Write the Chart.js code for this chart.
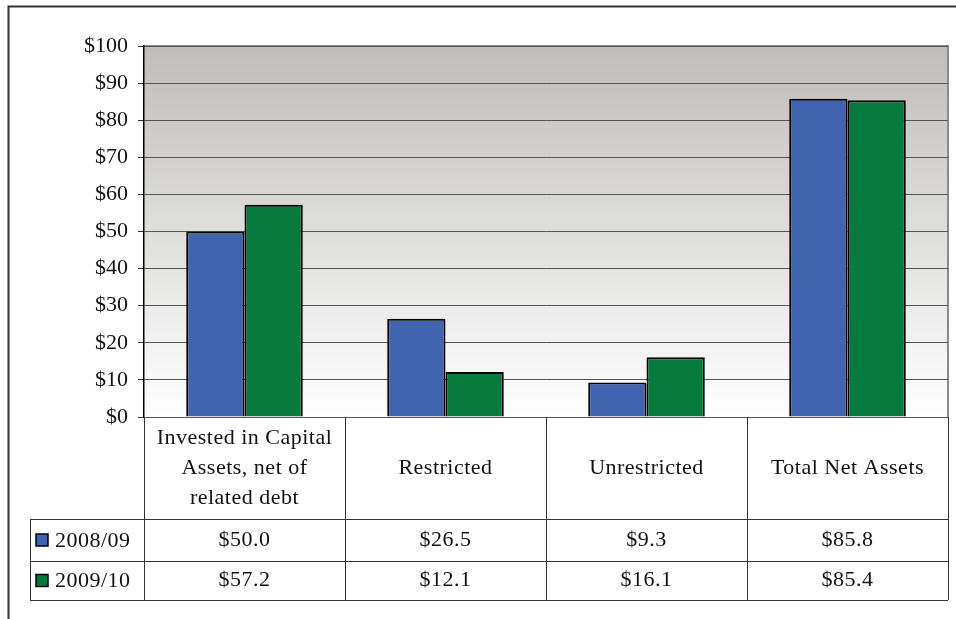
<!DOCTYPE html>
<html>
<head>
<meta charset="utf-8">
<script src="https://cdn.jsdelivr.net/npm/chart.js@4"></script>
<style>
  html, body { margin: 0; padding: 0; background: #fff; }
  #wrap { position: relative; width: 956px; height: 619px; }
</style>
</head>
<body>
<div id="wrap"><canvas id="chart" width="956" height="619"></canvas></div>
<script>
const categories = [
  ['Invested in Capital', 'Assets, net of', 'related debt'],
  ['Restricted'],
  ['Unrestricted'],
  ['Total Net Assets']
];
const seriesNames = ['2008/09', '2009/10'];
const values0809 = [50.0, 26.5, 9.3, 85.8];
const values0910 = [57.2, 12.1, 16.1, 85.4];
const colors = ['#4064b0', '#067a3c'];

const FONT = '"Liberation Serif", "Times New Roman", serif';

// grey-to-white fill behind the bars, plus the outer frame
const backdrop = {
  id: 'backdrop',
  beforeDraw(chart) {
    const { ctx, chartArea: a } = chart;
    ctx.save();
    const g = ctx.createLinearGradient(0, a.top, 0, a.bottom);
    g.addColorStop(0, '#bebdbb');
    g.addColorStop(1, '#ffffff');
    ctx.fillStyle = g;
    ctx.fillRect(a.left, a.top, a.right - a.left, a.bottom - a.top);
    ctx.strokeStyle = '#333';
    ctx.lineWidth = 2;
    ctx.beginPath();
    ctx.moveTo(8.5, 640);
    ctx.lineTo(8.5, 6.5);
    ctx.lineTo(960, 6.5);
    ctx.stroke();
    ctx.strokeStyle = '#8a8a8a';
    ctx.lineWidth = 2;
    ctx.beginPath();
    ctx.moveTo(a.left, a.top);
    ctx.lineTo(a.right, a.top);
    ctx.lineTo(a.right, a.bottom);
    ctx.stroke();
    ctx.restore();
  }
};

// data table under the plot, columns follow the category scale
const dataTable = {
  id: 'dataTable',
  afterDraw(chart) {
    const { ctx, chartArea: a } = chart;
    const xs = chart.scales.x;
    const n = categories.length;
    const colW = (a.right - a.left) / n;
    const headBottom = 519, row1 = 561, row2 = 600, legLeft = 30;
    ctx.save();
    ctx.strokeStyle = '#333';
    ctx.lineWidth = 1;
    const line = (x1, y1, x2, y2) => {
      ctx.beginPath(); ctx.moveTo(x1, y1); ctx.lineTo(x2, y2); ctx.stroke();
    };
    for (let i = 0; i <= n; i++) {
      const x = Math.round(a.left + i * colW) + 0.5;
      line(x, a.bottom, x, row2);
    }
    line(legLeft + 0.5, headBottom, legLeft + 0.5, row2);
    [headBottom, row1, row2].forEach(y => line(legLeft, y + 0.5, a.right, y + 0.5));

    ctx.fillStyle = '#111';
    ctx.font = '22px ' + FONT;
    ctx.letterSpacing = '0.5px';
    ctx.textAlign = 'center';
    ctx.textBaseline = 'middle';
    categories.forEach((lines, i) => {
      const cx = xs.getPixelForValue(i);
      const mid = (a.bottom + headBottom) / 2;
      lines.forEach((t, k) => {
        ctx.fillText(t, cx, mid + (k - (lines.length - 1) / 2) * 30);
      });
    });
    const rows = [values0809, values0910];
    const rowMid = [(headBottom + row1) / 2, (row1 + row2) / 2];
    rows.forEach((vals, r) => {
      vals.forEach((v, i) => {
        ctx.textAlign = 'center';
        ctx.fillText('$' + v.toFixed(1), xs.getPixelForValue(i), rowMid[r]);
      });
      ctx.fillStyle = colors[r];
      ctx.fillRect(36, rowMid[r] - 6, 12, 12);
      ctx.strokeStyle = '#000';
      ctx.lineWidth = 1.5;
      ctx.strokeRect(36, rowMid[r] - 6, 12, 12);
      ctx.fillStyle = '#111';
      ctx.textAlign = 'left';
      ctx.fillText(seriesNames[r], 55, rowMid[r] + 1);
    });
    ctx.restore();
  }
};

new Chart(document.getElementById('chart'), {
  type: 'bar',
  data: {
    labels: categories.map(c => c.join(' ')),
    datasets: [
      { label: seriesNames[0], data: values0809, backgroundColor: colors[0],
        borderColor: '#000', borderWidth: 2 },
      { label: seriesNames[1], data: values0910, backgroundColor: colors[1],
        borderColor: '#000', borderWidth: 2 }
    ]
  },
  options: {
    responsive: false,
    animation: false,
    datasets: { bar: { categoryPercentage: 0.58, barPercentage: 1.0 } },
    layout: { padding: { top: 46, bottom: 202, right: 8, left: 0 } },
    plugins: { legend: { display: false }, tooltip: { enabled: false } },
    scales: {
      x: { display: false },
      y: {
        min: 0, max: 100,
        afterFit(s) { s.width = 144; },
        ticks: {
          stepSize: 10,
          color: '#111',
          padding: 10,
          font: { family: FONT, size: 22 },
          callback: v => '$' + v
        },
        grid: { color: '#555', lineWidth: 1, tickLength: 6, tickColor: '#333' },
        border: { color: '#000', width: 1.5 }
      }
    }
  },
  plugins: [backdrop, dataTable]
});
</script>
</body>
</html>
